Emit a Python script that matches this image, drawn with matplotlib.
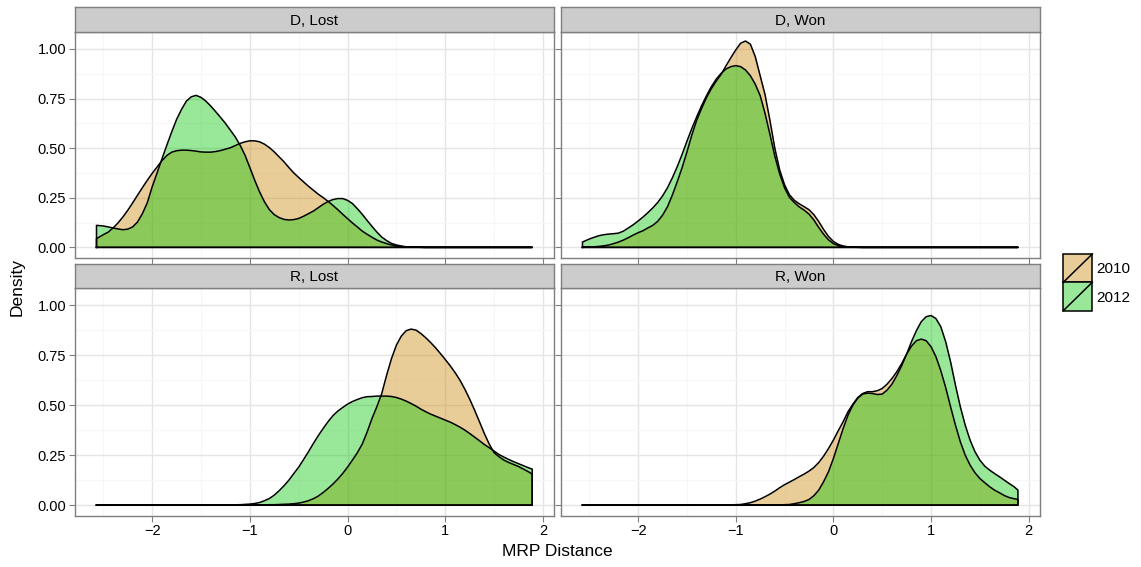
import matplotlib
matplotlib.use("Agg")
import matplotlib.pyplot as plt
from matplotlib.patches import Rectangle
from matplotlib.lines import Line2D

plt.rcParams['font.family'] = ['Liberation Sans', 'DejaVu Sans']

# ---- D, Lost ----
x_d_lost = [-2.57, -2.5, -2.45, -2.4, -2.35, -2.3, -2.25, -2.2, -2.15, -2.1,
            -2.05, -2.0, -1.95, -1.9, -1.85, -1.8, -1.75, -1.7, -1.65, -1.6,
            -1.55, -1.5, -1.45, -1.4, -1.35, -1.3, -1.25, -1.2, -1.15, -1.1,
            -1.05, -1.0, -0.95, -0.9, -0.85, -0.8, -0.75, -0.7, -0.65, -0.6,
            -0.55, -0.5, -0.45, -0.4, -0.35, -0.3, -0.25, -0.2, -0.15, -0.1,
            -0.05, 0.0, 0.05, 0.1, 0.15, 0.2, 0.25, 0.3, 0.35, 0.4,
            0.45, 0.5, 0.55, 0.6, 0.7, 0.8, 1.89]
d_lost_2010 = [0.044, 0.064, 0.077, 0.098, 0.123, 0.153, 0.187, 0.224, 0.263, 0.301,
               0.338, 0.373, 0.405, 0.437, 0.463, 0.48, 0.487, 0.49, 0.49, 0.488,
               0.485, 0.481, 0.48, 0.48, 0.483, 0.488, 0.495, 0.502, 0.513, 0.524,
               0.532, 0.537, 0.537, 0.532, 0.52, 0.503, 0.481, 0.456, 0.431, 0.402,
               0.375, 0.352, 0.33, 0.308, 0.288, 0.268, 0.251, 0.232, 0.212, 0.19,
               0.167, 0.145, 0.123, 0.103, 0.082, 0.066, 0.051, 0.037, 0.027, 0.019,
               0.012, 0.007, 0.004, 0.002, 0.001, 0, 0]
d_lost_2012 = [0.111, 0.108, 0.103, 0.098, 0.093, 0.089, 0.092, 0.103, 0.128, 0.17,
               0.225, 0.305, 0.375, 0.446, 0.515, 0.582, 0.645, 0.695, 0.737, 0.759,
               0.766, 0.756, 0.737, 0.712, 0.684, 0.655, 0.625, 0.591, 0.557, 0.515,
               0.465, 0.402, 0.338, 0.279, 0.229, 0.19, 0.165, 0.15, 0.141, 0.138,
               0.14, 0.146, 0.157, 0.17, 0.183, 0.2, 0.217, 0.231, 0.241, 0.246,
               0.246, 0.237, 0.221, 0.195, 0.167, 0.136, 0.106, 0.077, 0.052, 0.034,
               0.02, 0.012, 0.007, 0.003, 0.001, 0, 0]

# ---- D, Won ----
x_d_won = [-2.57, -2.5, -2.45, -2.4, -2.35, -2.3, -2.25, -2.2, -2.15, -2.1,
           -2.05, -2.0, -1.95, -1.9, -1.85, -1.8, -1.75, -1.7, -1.65, -1.6,
           -1.55, -1.5, -1.45, -1.4, -1.35, -1.3, -1.25, -1.2, -1.15, -1.1,
           -1.05, -1.0, -0.95, -0.9, -0.85, -0.8, -0.75, -0.7, -0.65, -0.6,
           -0.55, -0.5, -0.45, -0.4, -0.35, -0.3, -0.25, -0.2, -0.15, -0.1,
           -0.05, 0.0, 0.05, 0.1, 0.15, 0.2, 0.3, 1.89]
d_won_2010 = [0.002, 0.002, 0.003, 0.005, 0.008, 0.012, 0.019, 0.027, 0.037, 0.049,
              0.062, 0.074, 0.084, 0.098, 0.111, 0.131, 0.162, 0.204, 0.263, 0.33,
              0.401, 0.481, 0.566, 0.641, 0.7, 0.755, 0.8, 0.838, 0.872, 0.915,
              0.956, 0.995, 1.029, 1.04, 1.024, 0.961, 0.865, 0.77, 0.64, 0.5,
              0.39, 0.315, 0.265, 0.237, 0.22, 0.205, 0.19, 0.165, 0.13, 0.09,
              0.055, 0.03, 0.015, 0.007, 0.003, 0.001, 0, 0]
d_won_2012 = [0.027, 0.042, 0.051, 0.059, 0.064, 0.067, 0.069, 0.072, 0.082, 0.098,
              0.114, 0.133, 0.153, 0.175, 0.199, 0.226, 0.259, 0.3, 0.35, 0.406,
              0.468, 0.535, 0.599, 0.658, 0.714, 0.764, 0.81, 0.848, 0.877, 0.899,
              0.911, 0.916, 0.911, 0.894, 0.865, 0.822, 0.765, 0.675, 0.57, 0.46,
              0.37, 0.3, 0.252, 0.226, 0.204, 0.188, 0.168, 0.138, 0.1, 0.066,
              0.038, 0.019, 0.009, 0.004, 0.002, 0.001, 0, 0]

# ---- R, Lost ----
x_r_lost = [-2.57, -1.2, -1.1, -1.0, -0.95, -0.9, -0.85, -0.8, -0.75, -0.7,
            -0.65, -0.6, -0.55, -0.5, -0.45, -0.4, -0.35, -0.3, -0.25, -0.2,
            -0.15, -0.1, -0.05, 0.0, 0.05, 0.1, 0.15, 0.2, 0.25, 0.3,
            0.35, 0.4, 0.45, 0.5, 0.55, 0.6, 0.65, 0.7, 0.75, 0.8,
            0.85, 0.9, 0.95, 1.0, 1.05, 1.1, 1.15, 1.2, 1.25, 1.3,
            1.35, 1.4, 1.45, 1.5, 1.55, 1.6, 1.65, 1.7, 1.75, 1.8,
            1.85, 1.89]
r_lost_2010 = [0, 0, 0, 0, 0, 0.001, 0.001, 0.002, 0.002, 0.003,
               0.004, 0.005, 0.007, 0.01, 0.015, 0.022, 0.032, 0.045, 0.063, 0.083,
               0.105, 0.13, 0.158, 0.19, 0.225, 0.262, 0.305, 0.365, 0.433, 0.492,
               0.558, 0.65, 0.733, 0.8, 0.845, 0.872, 0.88, 0.875, 0.858, 0.837,
               0.813, 0.787, 0.758, 0.728, 0.697, 0.663, 0.625, 0.58, 0.53, 0.475,
               0.417, 0.358, 0.305, 0.262, 0.242, 0.225, 0.213, 0.203, 0.193, 0.18,
               0.167, 0.155]
r_lost_2012 = [0, 0.001, 0.002, 0.005, 0.008, 0.013, 0.022, 0.033, 0.05, 0.072,
               0.097, 0.125, 0.158, 0.19, 0.228, 0.267, 0.308, 0.347, 0.383, 0.417,
               0.447, 0.47, 0.488, 0.505, 0.518, 0.528, 0.537, 0.542, 0.543, 0.545,
               0.545, 0.545, 0.543, 0.538, 0.53, 0.52, 0.508, 0.495, 0.48, 0.467,
               0.455, 0.445, 0.435, 0.425, 0.415, 0.403, 0.39, 0.375, 0.358, 0.34,
               0.322, 0.303, 0.287, 0.27, 0.253, 0.24, 0.228, 0.217, 0.207, 0.197,
               0.187, 0.18]

# ---- R, Won ----
x_r_won = [-2.57, -1.2, -1.0, -0.95, -0.9, -0.85, -0.8, -0.75, -0.7, -0.65,
           -0.6, -0.55, -0.5, -0.45, -0.4, -0.35, -0.3, -0.25, -0.2, -0.15,
           -0.1, -0.05, 0.0, 0.05, 0.1, 0.15, 0.2, 0.25, 0.3, 0.35,
           0.4, 0.45, 0.5, 0.55, 0.6, 0.65, 0.7, 0.75, 0.8, 0.85,
           0.9, 0.95, 1.0, 1.05, 1.1, 1.15, 1.2, 1.25, 1.3, 1.35,
           1.4, 1.45, 1.5, 1.55, 1.6, 1.65, 1.7, 1.75, 1.8, 1.85,
           1.89]
r_won_2010 = [0, 0, 0.002, 0.003, 0.007, 0.012, 0.02, 0.03, 0.042, 0.055,
              0.07, 0.087, 0.102, 0.115, 0.128, 0.142, 0.155, 0.17, 0.188, 0.213,
              0.245, 0.283, 0.325, 0.372, 0.417, 0.467, 0.505, 0.538, 0.558, 0.567,
              0.567, 0.572, 0.583, 0.605, 0.633, 0.667, 0.708, 0.755, 0.795, 0.822,
              0.83, 0.822, 0.792, 0.742, 0.672, 0.588, 0.492, 0.4, 0.317, 0.25,
              0.2, 0.162, 0.133, 0.112, 0.092, 0.075, 0.062, 0.048, 0.038, 0.032,
              0.028]
r_won_2012 = [0, 0, 0, 0, 0, 0, 0, 0, 0, 0,
              0, 0.001, 0.002, 0.003, 0.007, 0.012, 0.018, 0.028, 0.047, 0.075,
              0.117, 0.167, 0.233, 0.308, 0.383, 0.45, 0.5, 0.535, 0.555, 0.56,
              0.558, 0.553, 0.555, 0.575, 0.605, 0.648, 0.698, 0.755, 0.817, 0.872,
              0.917, 0.942, 0.948, 0.933, 0.892, 0.817, 0.717, 0.6, 0.492, 0.4,
              0.325, 0.267, 0.225, 0.195, 0.175, 0.158, 0.142, 0.125, 0.108, 0.092,
              0.075]

panneaux = [
    ("D, Lost", x_d_lost, d_lost_2010, d_lost_2012),
    ("D, Won", x_d_won, d_won_2010, d_won_2012),
    ("R, Lost", x_r_lost, r_lost_2010, r_lost_2012),
    ("R, Won", x_r_won, r_won_2010, r_won_2012),
]
annees = ["2010", "2012"]
couleurs = ['#CA8200', '#00C500']
alpha = 0.4

W, H = 1141, 567
fig = plt.figure(figsize=(W / 100, H / 100), dpi=100)


def fx(px):
    return px / W


def fy(py):
    return 1 - py / H


# positions en pixels (gauche, droite), (haut bandeau, bas bandeau, bas panneau)
cols = [(74.7, 554.0), (560.7, 1039.7)]
rows = [(7.3, 31.7, 257.7), (264.0, 287.7, 515.5)]
gris = '#7F7F7F'

for i, (titre, xs, y2010, y2012) in enumerate(panneaux):
    r, c = divmod(i, 2)
    x0, x1 = cols[c]
    s_top, s_bot, p_bot = rows[r]

    ax = fig.add_axes([fx(x0), fy(p_bot), fx(x1) - fx(x0),
                       fy(s_bot) - fy(p_bot)])
    ax.set_xlim(-2.793, 2.113)
    ax.set_ylim(-0.052, 1.087)
    ax.set_xticks([-2, -1, 0, 1, 2])
    ax.set_xticks([-2.5, -1.5, -0.5, 0.5, 1.5], minor=True)
    ax.set_yticks([0, 0.25, 0.5, 0.75, 1.0])
    ax.set_yticks([0.125, 0.375, 0.625, 0.875], minor=True)
    ax.grid(True, which='major', color='#E5E5E5', linewidth=1.0)
    ax.grid(True, which='minor', color='#F7F7F7', linewidth=0.8)
    ax.set_axisbelow(True)
    for sp in ax.spines.values():
        sp.set_color(gris)
        sp.set_linewidth(1.0)
    ax.tick_params(which='major', length=4, color=gris, labelsize=10.5,
                   labelcolor='black', pad=2)
    ax.tick_params(which='minor', length=0)
    if c == 1:
        ax.tick_params(labelleft=False)
    if r == 0:
        ax.tick_params(labelbottom=False)
    else:
        ax.set_xticklabels(['\u22122', '\u22121', '0', '1', '2'])
    ax.set_yticklabels(['0.00', '0.25', '0.50', '0.75', '1.00'])

    for yy, coul in zip([y2010, y2012], couleurs):
        ax.fill_between(xs, 0, yy, color=coul, alpha=alpha, linewidth=0)
        ax.plot([xs[0]] + xs + [xs[-1], xs[0]], [0] + yy + [0, 0],
                color='black', linewidth=1.1, solid_joinstyle='round')

    # bandeau
    sax = fig.add_axes([fx(x0), fy(s_bot), fx(x1) - fx(x0),
                        fy(s_top) - fy(s_bot)])
    sax.set_facecolor('#CCCCCC')
    sax.set_xticks([])
    sax.set_yticks([])
    for sp in sax.spines.values():
        sp.set_color(gris)
        sp.set_linewidth(1.0)
    sax.text(0.5, 0.45, titre, ha='center', va='center', fontsize=11,
             transform=sax.transAxes)

fig.text(fx(17), fy(287), "Density", rotation=90, ha='center', va='center',
         fontsize=12.5)
fig.text(fx(557), fy(551), "MRP Distance", ha='center', va='center',
         fontsize=12.5)

# légende
lax = fig.add_axes([0, 0, 1, 1])
lax.set_xlim(0, W)
lax.set_ylim(H, 0)
lax.axis('off')
lax.patch.set_alpha(0)
kx0, kx1 = 1063.3, 1092.3
ky = [(254.0, 282.3), (282.3, 310.7)]
for (y0, y1), coul, lab in zip(ky, couleurs, annees):
    lax.add_patch(Rectangle((kx0, y0), kx1 - kx0, y1 - y0, facecolor='white',
                            edgecolor='none'))
    lax.add_patch(Rectangle((kx0, y0), kx1 - kx0, y1 - y0, facecolor=coul,
                            alpha=alpha, edgecolor='none'))
    lax.add_patch(Rectangle((kx0, y0), kx1 - kx0, y1 - y0, facecolor='none',
                            edgecolor='black', linewidth=1.1))
    lax.add_line(Line2D([kx0, kx1], [y1, y0], color='black', linewidth=1.1))
    lax.text(kx1 + 4, (y0 + y1) / 2 + 1, lab, ha='left', va='center',
             fontsize=11)

fig.savefig("out.png", dpi=100)
